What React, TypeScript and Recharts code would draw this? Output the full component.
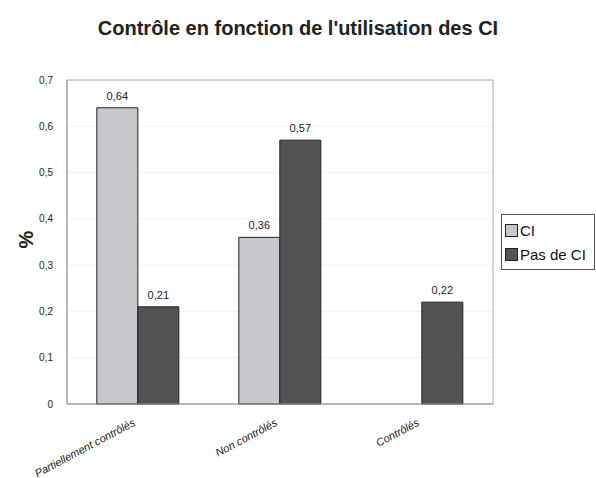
import { BarChart, Bar, XAxis, YAxis, CartesianGrid, LabelList, ReferenceArea } from 'recharts';

const categories = ['Partiellement contrôlés', 'Non contrôlés', 'Contrôlés'];
const ciValues = [0.64, 0.36, null];
const pasDeCiValues = [0.21, 0.57, 0.22];
const yTicks = [0, 0.1, 0.2, 0.3, 0.4, 0.5, 0.6, 0.7];

const data = categories.map((name, i) => ({ name, ci: ciValues[i], pas: pasDeCiValues[i] }));

const FONT = '"Liberation Sans", Arial, sans-serif';
const CI_COLOR = '#c7c8cb';
const PAS_COLOR = '#535355';
const fmt = (v: any) => (v == null ? '' : String(v).replace('.', ','));

function XTick({ x, y, payload }: any) {
  return (
    <text x={x - 2} y={y + 13} transform={`rotate(-28 ${x - 2} ${y + 13})`} textAnchor="end"
      fontSize={11} fontStyle="italic" fontFamily={FONT} fill="#222">
      {payload.value}
    </text>
  );
}

function LegendBox() {
  const items = [
    { label: 'CI', color: CI_COLOR },
    { label: 'Pas de CI', color: PAS_COLOR },
  ];
  return (
    <div style={{ position: 'absolute', left: 501, top: 214, width: 94, height: 56, border: '1px solid #555',
      boxSizing: 'border-box', padding: '3px 0 0 3px', fontFamily: FONT, fontSize: 15, color: '#111', background: '#fff' }}>
      {items.map((it) => (
        <div key={it.label} style={{ display: 'flex', alignItems: 'center', height: 24 }}>
          <span style={{ width: 11, height: 11, background: it.color, border: '1px solid #222', marginRight: 2 }} />
          {it.label}
        </div>
      ))}
    </div>
  );
}

export default function App() {
  return (
    <div style={{ position: 'absolute', left: 0, top: 0, width: 596, height: 478, background: '#fff' }}>
      <div style={{ position: 'absolute', top: 17, left: 0, width: 596, textAlign: 'center', fontFamily: FONT, fontWeight: 'bold', fontSize: 20, color: '#222' }}>
        Contrôle en fonction de l'utilisation des CI
      </div>
      <div style={{ position: 'absolute', left: 18, top: 228, transform: 'rotate(-90deg)', fontFamily: FONT, fontWeight: 'bold', fontSize: 20, color: '#222' }}>
        %
      </div>
      <BarChart width={596} height={478} data={data} margin={{ top: 80, right: 103, bottom: 14, left: 27 }}
        barCategoryGap="21%" barGap={0}>
        <CartesianGrid vertical={false} stroke="#f2f2f2" />
        <ReferenceArea y1={0} y2={0.7} fill="none" stroke="#aaa" strokeWidth={1} ifOverflow="visible" />
        <XAxis dataKey="name" tick={<XTick />} tickLine={false} axisLine={{ stroke: '#999' }} height={60} interval={0} />
        <YAxis domain={[0, 0.7]} ticks={yTicks} width={40} tickLine={false} axisLine={{ stroke: '#999' }}
          tickFormatter={fmt} tick={{ fontSize: 10, fontFamily: FONT, fill: '#222' }} tickMargin={8} />
        <Bar dataKey="ci" name="CI" fill={CI_COLOR} stroke="#222" strokeWidth={1} isAnimationActive={false}>
          <LabelList dataKey="ci" position="top" formatter={fmt} style={{ fontSize: 11, fontFamily: FONT, fill: '#222' }} offset={8} />
        </Bar>
        <Bar dataKey="pas" name="Pas de CI" fill={PAS_COLOR} stroke="#222" strokeWidth={1} isAnimationActive={false}>
          <LabelList dataKey="pas" position="top" formatter={fmt} style={{ fontSize: 11, fontFamily: FONT, fill: '#222' }} offset={8} />
        </Bar>
      </BarChart>
      <LegendBox />
    </div>
  );
}
